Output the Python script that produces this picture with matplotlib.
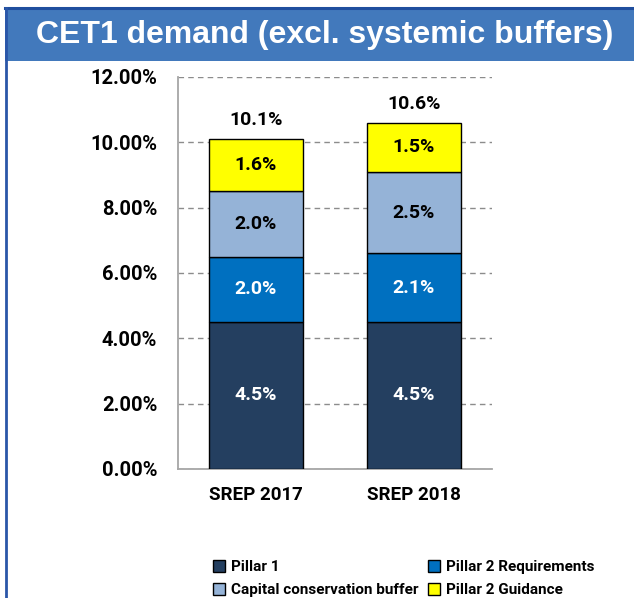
import matplotlib
matplotlib.use("Agg")
from matplotlib import pyplot as plt
from matplotlib.patches import Rectangle
from matplotlib.lines import Line2D
import numpy as np

# data
categories = ["SREP 2017", "SREP 2018"]
pillar1 = [4.5, 4.5]
p2r = [2.0, 2.1]
ccb = [2.0, 2.5]
p2g = [1.6, 1.5]
totals = [10.1, 10.6]
yticks = [0, 2, 4, 6, 8, 10, 12]

W, H = 634, 598
fig = plt.figure(figsize=(W / 100, H / 100), dpi=100)
plt.rcParams["font.family"] = ["Roboto", "DejaVu Sans"]

def fx(px):
    return px / W

def fy(py):
    return 1 - py / H

# blue title banner and frame
fig.patches.append(Rectangle((fx(5), fy(61)), 1 - fx(5), fy(8) - fy(61),
                             transform=fig.transFigure, facecolor="#4279BC",
                             edgecolor="none", zorder=0))
fig.lines.append(Line2D([fx(5), 1], [fy(8), fy(8)], transform=fig.transFigure,
                        color="#1F4E9E", lw=2.2))
fig.lines.append(Line2D([fx(6), fx(6)], [fy(8), 0], transform=fig.transFigure,
                        color="#2A56A8", lw=2))
fig.text(fx(325), fy(35), "CET1 demand (excl. systemic buffers)", color="white",
         fontsize=23, fontweight="bold", family="Liberation Sans",
         ha="center", va="center")

ax = fig.add_axes([fx(178), fy(469), fx(492) - fx(178), fy(77) - fy(469)])
x = np.arange(len(categories))
w = 0.59
colors = ["#243F60", "#0070C0", "#95B3D7", "#FFFF00"]
names = ["Pillar 1", "Pillar 2 Requirements", "Capital conservation buffer",
         "Pillar 2 Guidance"]
series = [pillar1, p2r, ccb, p2g]
txt_col = ["white", "white", "black", "black"]
fs = 14
bottom = np.zeros(len(categories))
bars = []
for vals, c, n, tc in zip(series, colors, names, txt_col):
    b = ax.bar(x, vals, w, bottom=bottom, color=c, edgecolor="black",
               linewidth=1, label=n, zorder=3)
    bars.append(b)
    for xi, v, b0 in zip(x, vals, bottom):
        ax.text(xi, b0 + v / 2, f"{v:.1f}%", ha="center", va="center",
                color=tc, fontsize=fs, fontweight="bold", zorder=4)
    bottom += np.array(vals)

for xi, t in zip(x, totals):
    ax.text(xi, t + 0.3, f"{t:.1f}%", ha="center", va="bottom",
            fontsize=fs, fontweight="bold")

ax.set_xlim(-0.494, 1.494)
ax.set_ylim(0, 12)
ax.set_yticks(yticks)
ax.set_yticklabels([f"{t:.2f}%" for t in yticks], fontsize=14.5, fontweight="bold")
ax.set_xticks(x)
ax.set_xticklabels(categories, fontsize=13.5, fontweight="bold")
ax.tick_params(length=0, pad=15, axis="y")
ax.tick_params(length=0, pad=12, axis="x")
ax.yaxis.grid(True, linestyle=(0, (4, 3)), color="#8C8C8C", lw=1, zorder=0)
ax.set_axisbelow(True)
for s in ["top", "right"]:
    ax.spines[s].set_visible(False)
for s in ["left", "bottom"]:
    ax.spines[s].set_color("#A6A6A6")
    ax.spines[s].set_linewidth(1.3)

# legend in two columns placed separately
leg_kw = dict(loc="upper left", frameon=False,
              prop={"weight": "bold", "size": 11},
              handlelength=0.8, handleheight=0.8, handletextpad=0.35,
              labelspacing=0.6, borderpad=0, borderaxespad=0)
fig.legend([bars[0], bars[2]], [names[0], names[2]],
           bbox_to_anchor=(fx(213), fy(560)), **leg_kw)
fig.legend([bars[1], bars[3]], [names[1], names[3]],
           bbox_to_anchor=(fx(428), fy(560)), **leg_kw)

fig.savefig("out.png", dpi=100)
